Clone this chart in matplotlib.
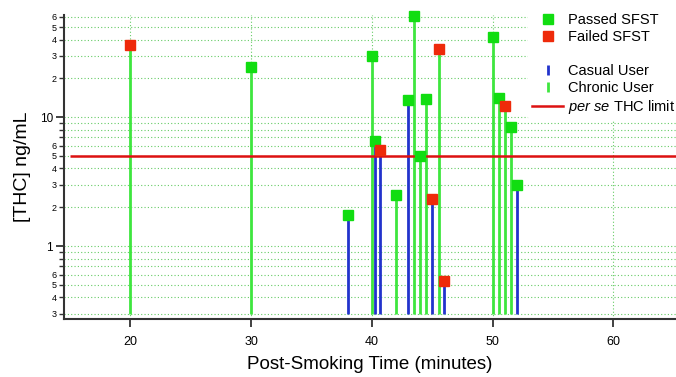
import matplotlib
matplotlib.use("Agg")
import matplotlib.pyplot as plt
from matplotlib.lines import Line2D
from matplotlib.ticker import LogLocator, FuncFormatter
import numpy as np

plt.rcParams["font.family"] = ["Liberation Sans", "DejaVu Sans"]
plt.rcParams["mathtext.fontset"] = "custom"
plt.rcParams["mathtext.it"] = "Liberation Sans:italic"
plt.rcParams["mathtext.rm"] = "Liberation Sans"

# post-smoking time (min), blood THC (ng/mL), user type, SFST outcome
times = [20, 30, 38, 40, 40.3, 40.7, 42, 43, 43.5, 44, 44.5, 45, 45.6, 46,
         50, 50.5, 51, 51.5, 52]
thc = [36, 24.5, 1.75, 30, 6.5, 5.6, 2.5, 13.5, 61, 5.0, 13.8, 2.3, 34, 0.54,
       42, 14, 12.2, 8.4, 3.0]
user = ["chronic", "chronic", "casual", "chronic", "casual", "casual", "chronic",
        "casual", "chronic", "chronic", "chronic", "casual", "chronic", "casual",
        "chronic", "chronic", "chronic", "chronic", "casual"]
sfst = ["failed", "passed", "passed", "passed", "passed", "failed", "passed",
        "passed", "passed", "passed", "passed", "failed", "failed", "failed",
        "passed", "passed", "failed", "passed", "passed"]
limit = 5.0
stem_base = 0.3

GREEN_LINE = "#3ee63e"
GREEN_SQ = "#11dd11"
RED_SQ = "#ee2a0a"
BLUE = "#2233cc"
RED_LINE = "#dd1111"
GRID = "#66cc66"

fig = plt.figure(figsize=(6.76, 3.77), dpi=100)
ax = fig.add_axes([64 / 676, 1 - 319 / 377, 1 - 64 / 676, (319 - 15) / 377])

ax.set_yscale("log")
ax.set_ylim(0.272, 62)
ax.set_xlim(14.5, 65.2)

# grid
ax.grid(True, which="both", axis="y", color=GRID, ls=(0, (1, 2)), lw=0.8)
ax.grid(True, which="major", axis="x", color=GRID, ls=(0, (1, 2)), lw=0.8)

for t, v, u in zip(times, thc, user):
    ax.vlines(t, stem_base, v, color=BLUE if u == "casual" else GREEN_LINE,
              lw=2, zorder=3)

ax.hlines(limit, 15, 65.2, color=RED_LINE, lw=1.8, zorder=4)

for t, v, r in zip(times, thc, sfst):
    c = GREEN_SQ if r == "passed" else RED_SQ
    ax.plot(t, v, "s", ms=7.5, color=c, mec=c, zorder=5, clip_on=False)

# axes styling
for s in ["top", "right"]:
    ax.spines[s].set_visible(False)
for s in ["left", "bottom"]:
    ax.spines[s].set_color("#333333")
    ax.spines[s].set_linewidth(1.5)

ax.set_xticks([20, 30, 40, 50, 60])
ax.tick_params(axis="x", labelsize=9, length=6, width=1.3, color="#333333", pad=6)
ax.yaxis.set_major_locator(LogLocator(base=10, subs=[1.0]))
ax.yaxis.set_minor_locator(LogLocator(base=10, subs=np.arange(2, 10)))


def minor_label(v, pos):
    d = int(round(v / 10 ** np.floor(np.log10(v) + 1e-9)))
    return str(d) if d in (2, 3, 4, 5, 6) else ""


ax.yaxis.set_major_formatter(FuncFormatter(lambda v, p: "%g" % v))
ax.yaxis.set_minor_formatter(FuncFormatter(minor_label))
ax.tick_params(axis="y", which="major", labelsize=8.5, length=6, width=1.3,
               color="#333333", pad=2)
ax.tick_params(axis="y", which="minor", labelsize=6.5, length=3.5, width=1.0,
               color="#333333", pad=2)

ax.set_xlabel("Post-Smoking Time (minutes)", fontsize=13.5, labelpad=6)
ax.set_ylabel("[THC] ng/mL", fontsize=14, labelpad=6)

handles = [
    Line2D([], [], marker="s", ls="none", ms=7.5, color=GREEN_SQ),
    Line2D([], [], marker="s", ls="none", ms=7.5, color=RED_SQ),
    Line2D([], [], ls="none"),
    Line2D([], [], marker="|", ls="none", ms=7, mew=2, color=BLUE),
    Line2D([], [], marker="|", ls="none", ms=7, mew=2, color=GREEN_LINE),
    Line2D([], [], color=RED_LINE, lw=1.8),
]
labels = ["Passed SFST", "Failed SFST", "", "Casual User", "Chronic User",
          r"$\it{per\ se}$ THC limit"]
leg = ax.legend(handles, labels, loc="upper left",
                bbox_to_anchor=(528 / 676, 1 - 9 / 377),
                bbox_transform=fig.transFigure,
                frameon=True, fontsize=10.5, handlelength=2.1, handletextpad=0.35,
                labelspacing=0.2, borderpad=0.3, borderaxespad=0)
leg.get_frame().set_facecolor("white")
leg.get_frame().set_edgecolor("none")
leg.get_frame().set_alpha(1)
leg.set_zorder(3.5)

fig.savefig("out.png", dpi=100)
